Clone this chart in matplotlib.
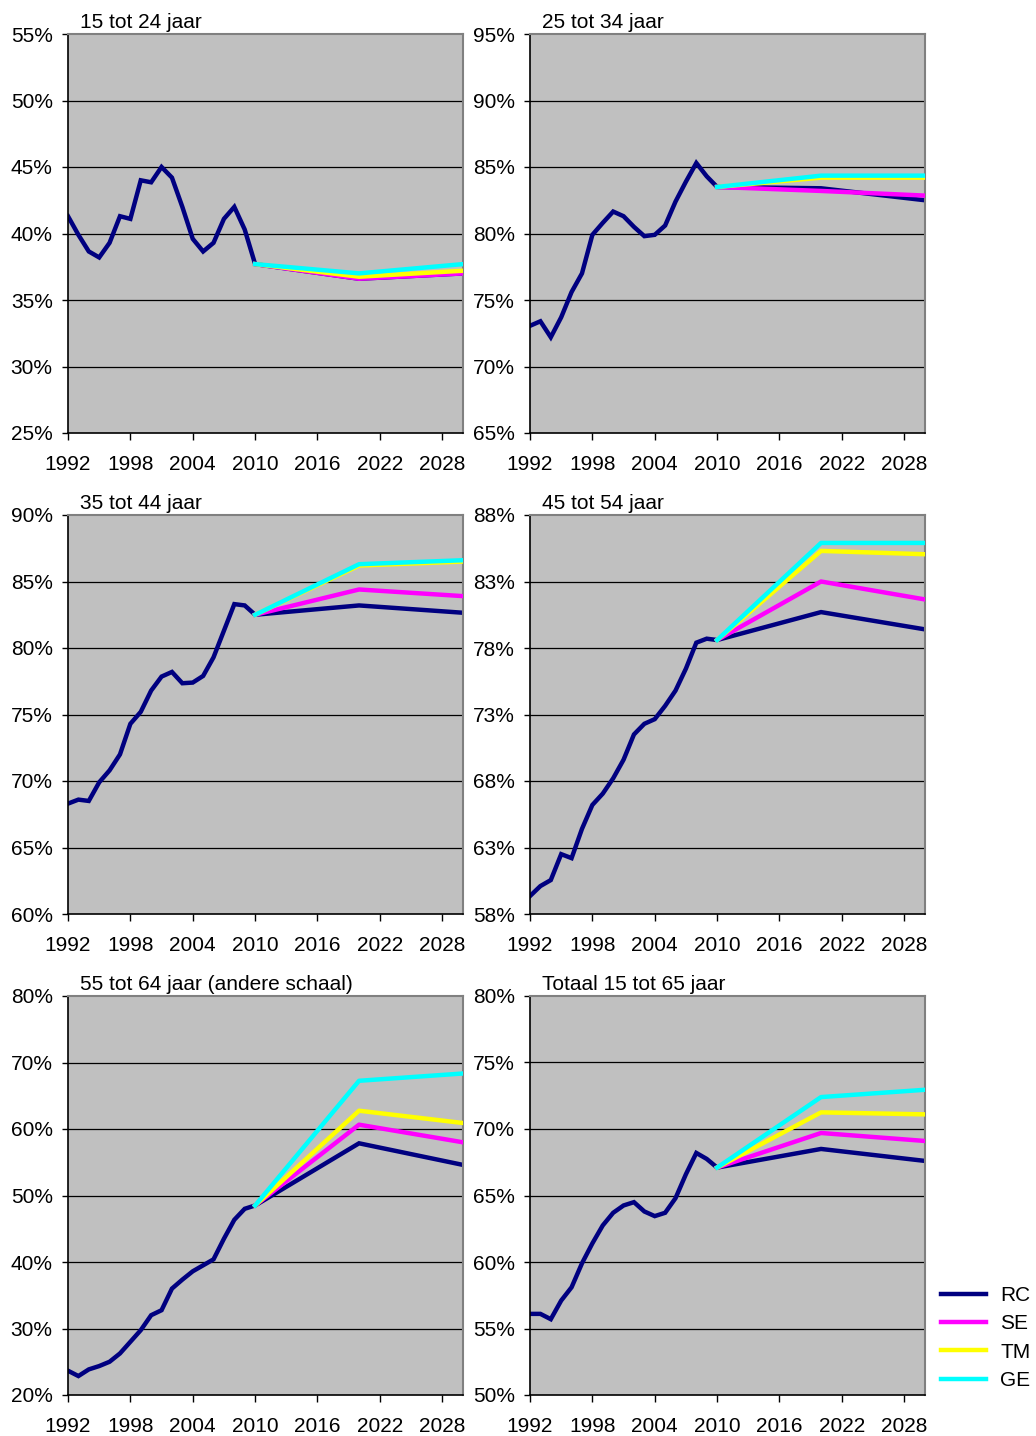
import matplotlib
matplotlib.use('Agg')
import matplotlib.pyplot as plt
from matplotlib.ticker import FuncFormatter
from matplotlib.lines import Line2D

plt.rcParams['font.family'] = ['Liberation Sans', 'DejaVu Sans']

years_hist = list(range(1992, 2011))
years_proj = [2010, 2020, 2030]
x_ticks = [1992, 1998, 2004, 2010, 2016, 2022, 2028]

scenarios = ['RC', 'SE', 'TM', 'GE']
colors = {'RC': '#000080', 'SE': '#FF00FF', 'TM': '#FFFF00', 'GE': '#00FFFF'}

titles = ['15 tot 24 jaar', '25 tot 34 jaar', '35 tot 44 jaar',
          '45 tot 54 jaar', '55 tot 64 jaar (andere schaal)', 'Totaal 15 tot 65 jaar']

# observed participation rates (%) 1992-2010
hist_1524 = [41.3, 39.9, 38.65, 38.2, 39.3, 41.3, 41.1, 44.0, 43.85, 45.0,
             44.2, 42.0, 39.6, 38.65, 39.3, 41.1, 42.0, 40.3, 37.7]
hist_2534 = [73.06, 73.4, 72.2, 73.7, 75.6, 77.0, 79.9, 80.8, 81.65, 81.3,
             80.5, 79.8, 79.9, 80.6, 82.4, 83.9, 85.3, 84.3, 83.5]
hist_3544 = [68.3, 68.6, 68.5, 69.9, 70.8, 72.0, 74.3, 75.2, 76.8, 77.85,
             78.2, 77.35, 77.4, 77.9, 79.3, 81.3, 83.3, 83.2, 82.5]
hist_4554 = [59.35, 60.1, 60.55, 62.5, 62.2, 64.4, 66.2, 67.05, 68.2, 69.6,
             71.5, 72.3, 72.65, 73.65, 74.8, 76.45, 78.4, 78.7, 78.6]
hist_5564 = [23.65, 22.85, 23.85, 24.35, 25.0, 26.25, 28.0, 29.75, 32.0, 32.75,
             36.0, 37.35, 38.6, 39.5, 40.4, 43.5, 46.35, 48.0, 48.5]
hist_tot = [56.1, 56.1, 55.7, 57.1, 58.1, 59.9, 61.4, 62.75, 63.7, 64.25,
            64.5, 63.8, 63.45, 63.7, 64.8, 66.6, 68.2, 67.75, 67.1]

# scenario projections (%) for 2010, 2020, 2030
proj_1524 = {'RC': [37.7, 36.6, 37.0], 'SE': [37.7, 36.6, 37.0],
             'TM': [37.7, 36.75, 37.2], 'GE': [37.7, 37.0, 37.7]}
proj_2534 = {'RC': [83.5, 83.4, 82.5], 'SE': [83.5, 83.2, 82.85],
             'TM': [83.5, 84.2, 84.2], 'GE': [83.5, 84.35, 84.35]}
proj_3544 = {'RC': [82.5, 83.2, 82.65], 'SE': [82.5, 84.4, 83.9],
             'TM': [82.5, 86.2, 86.5], 'GE': [82.5, 86.3, 86.6]}
proj_4554 = {'RC': [78.6, 80.7, 79.4], 'SE': [78.6, 83.0, 81.65],
             'TM': [78.6, 85.3, 85.05], 'GE': [78.6, 85.9, 85.9]}
proj_5564 = {'RC': [48.5, 57.85, 54.6], 'SE': [48.5, 60.65, 58.0],
             'TM': [48.5, 62.75, 60.9], 'GE': [48.5, 67.25, 68.35]}
proj_tot = {'RC': [67.1, 68.5, 67.6], 'SE': [67.1, 69.7, 69.1],
            'TM': [67.1, 71.25, 71.1], 'GE': [67.1, 72.4, 72.95]}

y_ranges = [(25, 55, 5), (65, 95, 5), (60, 90, 5), (58, 88, 5), (20, 80, 10), (50, 80, 5)]

hists = [hist_1524, hist_2534, hist_3544, hist_4554, hist_5564, hist_tot]
projs = [proj_1524, proj_2534, proj_3544, proj_4554, proj_5564, proj_tot]

fig = plt.figure(figsize=(10.36, 14.36), dpi=100)

lefts = [68 / 1036, 530 / 1036]
bottoms = [1 - 433 / 1436, 1 - 914 / 1436, 1 - 1395 / 1436]
w = 395 / 1036
h = 399 / 1436
fs = 15

for i in range(6):
    ax = fig.add_axes([lefts[i % 2], bottoms[i // 2], w, h])
    ax.set_facecolor('#C0C0C0')
    lo, hi, step = y_ranges[i]
    yt = list(range(lo, hi + 1, step))
    ax.set_ylim(lo, hi)
    ax.set_xlim(1992, 2030)
    ax.set_yticks(yt)
    ax.set_xticks(x_ticks)
    ax.yaxis.set_major_formatter(FuncFormatter(lambda v, p: '%d%%' % round(v)))
    for v in yt[1:-1]:
        ax.axhline(v, color='black', lw=0.9, zorder=1)

    p = projs[i]
    ax.plot(years_hist + years_proj[1:], hists[i] + p['RC'][1:],
            color=colors['RC'], lw=3.2, solid_joinstyle='miter', zorder=2)
    for s in scenarios[1:]:
        ax.plot(years_proj, p[s], color=colors[s], lw=3.2, zorder=3)

    for side in ['top', 'right']:
        ax.spines[side].set_color('#808080')
        ax.spines[side].set_linewidth(1.5)
    for side in ['left', 'bottom']:
        ax.spines[side].set_color('black')
        ax.spines[side].set_linewidth(1.2)
    ax.tick_params(axis='y', length=4, width=1, pad=7, labelsize=fs)
    ax.tick_params(axis='x', length=5, width=1, pad=11, labelsize=fs)
    ax.text(0.03, 1.005, titles[i], transform=ax.transAxes, fontsize=fs,
            ha='left', va='bottom')

handles = [Line2D([], [], color=colors[s], lw=3.2) for s in scenarios]
fig.legend(handles, scenarios, loc='lower left', bbox_to_anchor=(941 / 1036, 46 / 1436),
           frameon=False, fontsize=fs, handlelength=2.15, handletextpad=0.7,
           labelspacing=0.45, borderaxespad=0, borderpad=0)

fig.savefig('out.png', dpi=100)
